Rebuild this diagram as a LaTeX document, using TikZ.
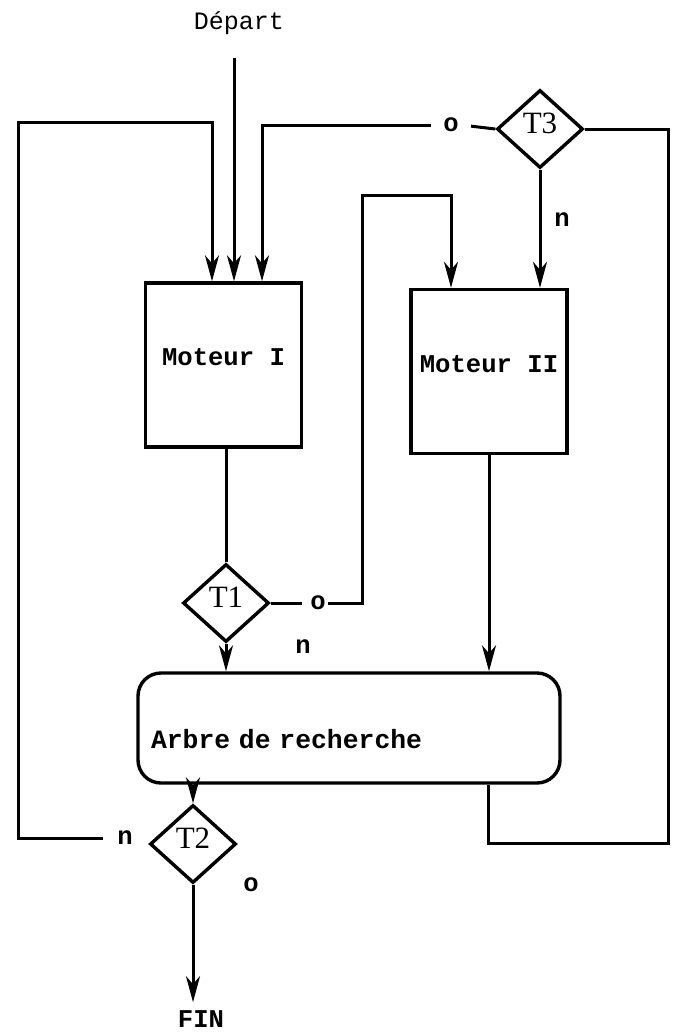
\documentclass[tikz,border=0pt]{standalone}
\usepackage{fontspec}
\setmonofont{Liberation Mono}
\newfontfamily\testfont{Liberation Serif}
\usetikzlibrary{arrows.meta,shapes.geometric}
\tikzset{
  font=\ttfamily\fontsize{12.5}{14}\selectfont,
  engine/.style={
    draw, line width=1.7pt, minimum width=78pt, minimum height=82pt,
    text depth=8pt,
    font=\ttfamily\bfseries\fontsize{12.8}{14}\selectfont
  },
  tree/.style={
    draw, line width=1.7pt, rounded corners=11.5pt,
    minimum height=55pt, text width=198pt, align=left, inner xsep=6.5pt,
    text height=22pt, text depth=2pt,
    font=\ttfamily\bfseries\fontsize{13.2}{14}\selectfont
  },
  test/.style={
    diamond, draw, line width=1.7pt, minimum width=43pt, minimum height=39pt,
    inner sep=0pt, text depth=6pt, font=\testfont\fontsize{15.5}{16}\selectfont
  },
  answer/.style={font=\ttfamily\bfseries\fontsize{12.8}{14}\selectfont, inner sep=1pt},
  link/.style={line width=1.5pt},
  flow/.style={link, -{Stealth[length=13pt,width=7pt,inset=4pt]}}
}

\begin{document}
\begin{tikzpicture}[x=0.5pt, y=-0.5pt]
  \useasboundingbox (0,0) rectangle (674,1035);

  % blocks
  \node (dep) at (239,23) {Départ};
  \node[engine] (m1) at (223.5,365) {Moteur I};
  \node[engine] (m2) at (489,371.5) {Moteur II};
  \node[tree] (arbre) at (349,728) {Arbre de recherche};
  \node[answer] (fin) at (201,1019) {FIN};

  % tests
  \node[test] (t3) at (540,129) {T3};
  \node[test] (t1) at (226,603) {T1};
  \node[test] (t2) at (193,844) {T2};

  % answers
  \node[answer] (o3) at (451,125) {o};
  \node[answer] (n3) at (562,220) {n};
  \node[answer] (o1) at (318,603) {o};
  \node[answer] (n1) at (303,647) {n};
  \node[answer] (n2) at (125,838) {n};
  \node[answer] (o2) at (251,885) {o};

  % corners of the loops
  \coordinate (start) at (234,58);
  \coordinate (lefttop) at (18,122);
  \coordinate (m2loop) at (362,195);
  \coordinate (rbot) at (668,843);

  % connections
  \draw[flow] (start) -- (start |- m1.north);
  \draw[flow, shorten <=6pt] (n2.west) -| (lefttop) -| ([xshift=-5.75pt]m1.north);
  \draw[link, shorten >=5pt] (t3.west) -- (o3.east);
  \draw[flow, shorten <=5pt] (o3.west) -| ([xshift=19.25pt]m1.north);
  \draw[flow] (t3.south) -- (t3.south |- m2.north);
  \draw[link] (m1.south -| t1.north) -- (t1.north);
  \draw[link, shorten >=3pt] (t1.east) -- (o1.west);
  \draw[flow] (o1.east) -| (m2loop) -| ([xshift=-19pt]m2.north);
  \draw[flow] (t1.south) -- (t1.south |- arbre.north);
  \draw[flow] (m2.south) -- (m2.south |- arbre.north);
  \draw[flow] (t2.north |- arbre.south) -- (t2.north);
  \draw[flow, shorten >=3pt] (t2.south) -- (t2.south |- fin.north);
  \draw[link] ([xshift=69.5pt]arbre.south) |- (rbot) |- (t3.east);
\end{tikzpicture}
\end{document}
